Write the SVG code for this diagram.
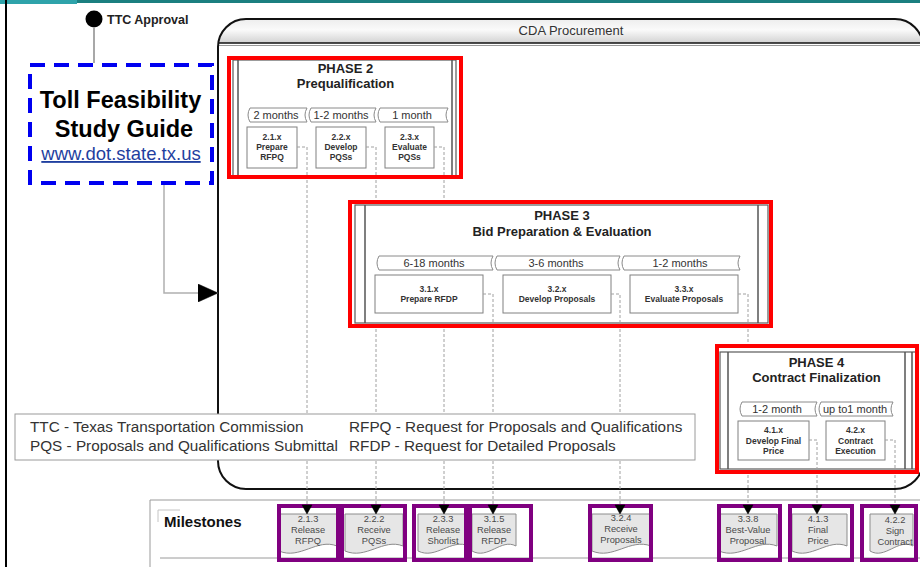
<svg xmlns="http://www.w3.org/2000/svg" width="920" height="567" viewBox="0 0 920 567">
<defs>
<style>
  text { font-family: "Liberation Sans", Arial, Helvetica, sans-serif; }
  .frame { fill: #fff; stroke: #5a5a5a; stroke-width: 1.2; }
  .bar { fill: none; stroke: #555; stroke-width: 1.5; }
  .hl { fill: none; stroke: #ff0000; stroke-width: 4; }
  .pl { fill: none; stroke: #800080; stroke-width: 4; }
  .task { fill: #fff; stroke: #808080; stroke-width: 1; }
  .tab { fill: #fff; stroke: #8a8a8a; stroke-width: 1; }
  .tt { font-size: 8.5px; font-weight: bold; fill: #333; text-anchor: middle; }
  .tabt { font-size: 11px; fill: #333; text-anchor: middle; }
  .ph { font-size: 13px; font-weight: bold; fill: #222; text-anchor: middle; }
  .doc { fill: #e6e6e6; stroke: #8c8c8c; stroke-width: 1; }
  .mt { font-size: 9.3px; fill: #4a4a4a; text-anchor: middle; }
  .dash { fill: none; stroke: #a0a0a0; stroke-width: 1; stroke-dasharray: 3 2; }
  .tip { fill: #000; stroke: #000; stroke-width: 0.5; }
  .leg { font-size: 15.3px; fill: #333; }
  .rule { fill: none; stroke: #9a9a9a; stroke-width: 1; }
</style>
<linearGradient id="hdr" x1="0" y1="0" x2="0" y2="1">
  <stop offset="0" stop-color="#ededed"/>
  <stop offset="0.45" stop-color="#fafafa"/>
  <stop offset="1" stop-color="#d2d2d2"/>
</linearGradient>
<clipPath id="cda-clip"><rect x="218" y="19" width="705" height="470" rx="28"/></clipPath>
<marker id="bigtri" markerUnits="userSpaceOnUse" markerWidth="20" markerHeight="18" viewBox="0 0 20 18" refX="20" refY="9" orient="auto">
  <path class="tip" d="M0,0 L20,9 L0,18 Z"/>
</marker>
</defs>

<!-- page frame -->
<rect x="0" y="0" width="920" height="567" fill="#fff"/>
<rect x="0" y="0" width="920" height="3" fill="#1b7f80"/>
<rect x="0" y="0" width="77" height="4" fill="#2ea3aa"/>
<rect x="5" y="0" width="2" height="567" fill="#000"/>

<!-- TTC approval event -->
<g id="ttc-approval">
  <circle cx="94" cy="19" r="8.5" fill="#000"/>
  <text x="107" y="23.5" font-size="12.5" font-weight="bold" fill="#222">TTC Approval</text>
</g>

<!-- guide reference box -->
<g id="guide-box">
  <rect x="30" y="65" width="182" height="118" fill="#fff" stroke="#0000f0" stroke-width="4" stroke-dasharray="15 9"/>
  <text x="120.5" y="108" font-size="23.5" font-weight="bold" fill="#000" text-anchor="middle">Toll Feasibility</text>
  <text x="124" y="137" font-size="23.5" font-weight="bold" fill="#000" text-anchor="middle">Study Guide</text>
  <text x="121" y="160" font-size="18.5" fill="#1f3f9f" text-anchor="middle" text-decoration="underline">www.dot.state.tx.us</text>
</g>

<!-- CDA procurement container -->
<g id="cda-procurement">
  <rect x="218" y="19" width="705" height="470" rx="28" fill="#fff"/>
  <rect x="218" y="19" width="705" height="24" fill="url(#hdr)" clip-path="url(#cda-clip)"/>
  <line x1="218" y1="43" x2="923" y2="43" stroke="#111" stroke-width="1.5"/>
  <line x1="218" y1="45.5" x2="923" y2="45.5" stroke="#999" stroke-width="1"/>
  <rect x="218" y="19" width="705" height="470" rx="28" fill="none" stroke="#111" stroke-width="2"/>
  <text x="571" y="35" font-size="13" fill="#333" text-anchor="middle">CDA Procurement</text>
</g>

<!-- Phase 2 -->
<g id="phase-2">
  <rect class="frame" x="233" y="60" width="223" height="116"/>
  <line class="bar" x1="238" y1="60" x2="238" y2="176"/>
  <line class="bar" x1="452" y1="60" x2="452" y2="176"/>
  <text class="ph" x="345.5" y="73">PHASE 2</text>
  <text class="ph" x="345.5" y="88">Prequalification</text>
  <path class="tab" d="M250,108 H307 Q303,115 307,122 H250 Q246,115 250,108 Z"/>
  <path class="tab" d="M311,108 H376 Q372,115 376,122 H311 Q307,115 311,108 Z"/>
  <path class="tab" d="M380,108 H448 Q444,115 448,122 H380 Q376,115 380,108 Z"/>
  <text class="tabt" x="276" y="118.5">2 months</text>
  <text class="tabt" x="341" y="118.5">1-2 months</text>
  <text class="tabt" x="412" y="118.5">1 month</text>
  <g id="task-2-1">
    <rect class="task" x="247" y="127" width="50" height="41"/>
    <text class="tt" x="272" y="140">2.1.x</text>
    <text class="tt" x="272" y="150">Prepare</text>
    <text class="tt" x="272" y="160">RFPQ</text>
  </g>
  <g id="task-2-2">
    <rect class="task" x="316" y="127" width="50" height="41"/>
    <text class="tt" x="341" y="140">2.2.x</text>
    <text class="tt" x="341" y="150">Develop</text>
    <text class="tt" x="341" y="160">PQSs</text>
  </g>
  <g id="task-2-3">
    <rect class="task" x="385" y="127" width="49" height="41"/>
    <text class="tt" x="409.5" y="140">2.3.x</text>
    <text class="tt" x="409.5" y="150">Evaluate</text>
    <text class="tt" x="409.5" y="160">PQSs</text>
  </g>
  <rect class="hl" x="229" y="58" width="232" height="119"/>
</g>

<!-- Phase 3 -->
<g id="phase-3">
  <rect class="frame" x="355" y="205" width="413" height="118"/>
  <line class="bar" x1="365" y1="205" x2="365" y2="323"/>
  <line class="bar" x1="758" y1="205" x2="758" y2="323"/>
  <text class="ph" x="562" y="220">PHASE 3</text>
  <text class="ph" x="562" y="236">Bid Preparation &amp; Evaluation</text>
  <path class="tab" d="M379,256 H493 Q489,263 493,270 H379 Q375,263 379,256 Z"/>
  <path class="tab" d="M497,256 H620 Q616,263 620,270 H497 Q493,263 497,256 Z"/>
  <path class="tab" d="M624,256 H740 Q736,263 740,270 H624 Q620,263 624,256 Z"/>
  <text class="tabt" x="434" y="267">6-18 months</text>
  <text class="tabt" x="556" y="267">3-6 months</text>
  <text class="tabt" x="680" y="267">1-2 months</text>
  <g id="task-3-1">
    <rect class="task" x="375" y="275" width="108" height="38"/>
    <text class="tt" x="429" y="292">3.1.x</text>
    <text class="tt" x="429" y="302">Prepare RFDP</text>
  </g>
  <g id="task-3-2">
    <rect class="task" x="503" y="275" width="108" height="38"/>
    <text class="tt" x="557" y="292">3.2.x</text>
    <text class="tt" x="557" y="302">Develop Proposals</text>
  </g>
  <g id="task-3-3">
    <rect class="task" x="630" y="275" width="108" height="38"/>
    <text class="tt" x="684" y="292">3.3.x</text>
    <text class="tt" x="684" y="302">Evaluate Proposals</text>
  </g>
  <rect class="hl" x="350" y="202" width="421" height="124"/>
</g>

<!-- Phase 4 -->
<g id="phase-4">
  <rect class="frame" x="720" y="352" width="197" height="117"/>
  <line class="bar" x1="728" y1="352" x2="728" y2="469"/>
  <line class="bar" x1="905" y1="352" x2="905" y2="469"/>
  <line class="bar" x1="912" y1="352" x2="912" y2="469"/>
  <text class="ph" x="816.5" y="367">PHASE 4</text>
  <text class="ph" x="816.5" y="382">Contract Finalization</text>
  <path class="tab" d="M742,402 H817 Q813,409 817,416 H742 Q738,409 742,402 Z"/>
  <path class="tab" d="M821,402 H893 Q889,409 893,416 H821 Q817,409 821,402 Z"/>
  <text class="tabt" x="777" y="413">1-2 month</text>
  <text class="tabt" x="855" y="413" font-size="10.5">up to1 month</text>
  <g id="task-4-1">
    <rect class="task" x="738" y="421" width="71" height="39"/>
    <text class="tt" x="773.5" y="433">4.1.x</text>
    <text class="tt" x="773.5" y="443.5">Develop Final</text>
    <text class="tt" x="773.5" y="454">Price</text>
  </g>
  <g id="task-4-2">
    <rect class="task" x="826" y="421" width="59" height="39"/>
    <text class="tt" x="855.5" y="433">4.2.x</text>
    <text class="tt" x="855.5" y="443.5">Contract</text>
    <text class="tt" x="855.5" y="454">Execution</text>
  </g>
  <rect class="hl" x="717" y="346" width="200" height="126"/>
</g>

<!-- abbreviations -->
<g id="legend">
  <rect x="15" y="414" width="680" height="46" fill="#fff" stroke="#9a9a9a" stroke-width="1"/>
  <text class="leg" x="30" y="432">TTC - Texas Transportation Commission</text>
  <text class="leg" x="30" y="451">PQS - Proposals and Qualifications Submittal</text>
  <text class="leg" x="349" y="432">RFPQ - Request for Proposals and Qualifications</text>
  <text class="leg" x="349" y="451">RFDP - Request for Detailed Proposals</text>
</g>

<!-- milestone lane -->
<g id="milestones">
  <path class="rule" d="M150,567 V500 H920"/>
  <path class="rule" d="M160,558 H920"/>
  <path d="M158,522 V510 H180" fill="none" stroke="#c4c4c4" stroke-width="1"/>
  <text x="164" y="527" font-size="15" font-weight="bold" fill="#111">Milestones</text>

  <g id="ms-2-1-3">
    <path class="doc" d="M279,514 H337 V546 C317,538 300,560 279,551 Z"/>
    <text class="mt" x="308" y="522">2.1.3</text><text class="mt" x="308" y="533">Release</text><text class="mt" x="308" y="544">RFPQ</text>
  </g>
  <g id="ms-2-2-2">
    <path class="doc" d="M345,514 H403 V546 C383,538 366,560 345,551 Z"/>
    <text class="mt" x="374" y="522">2.2.2</text><text class="mt" x="374" y="533">Receive</text><text class="mt" x="374" y="544">PQSs</text>
  </g>
  <g id="ms-2-3-3">
    <path class="doc" d="M418,514 H469 V546 C451,538 436,560 418,551 Z"/>
    <text class="mt" x="443" y="522">2.3.3</text><text class="mt" x="443" y="533">Release</text><text class="mt" x="443" y="544">Shorlist</text>
  </g>
  <g id="ms-3-1-5">
    <path class="doc" d="M472,514 H516 V546 C501,538 488,560 472,551 Z"/>
    <text class="mt" x="494" y="522">3.1.5</text><text class="mt" x="494" y="533">Release</text><text class="mt" x="494" y="544">RFDP</text>
  </g>
  <g id="ms-3-2-4">
    <path class="doc" d="M592,514 H651 V546 C630,538 613,560 592,551 Z"/>
    <text class="mt" x="621" y="521">3.2.4</text><text class="mt" x="621" y="532">Receive</text><text class="mt" x="621" y="543">Proposals</text>
  </g>
  <g id="ms-3-3-8">
    <path class="doc" d="M719,514 H777 V546 C757,538 740,560 719,551 Z"/>
    <text class="mt" x="748" y="522">3.3.8</text><text class="mt" x="748" y="533">Best-Value</text><text class="mt" x="748" y="544">Proposal</text>
  </g>
  <g id="ms-4-1-3">
    <path class="doc" d="M792,514 H847 V546 C828,538 811,560 792,551 Z"/>
    <text class="mt" x="818" y="522">4.1.3</text><text class="mt" x="818" y="533">Final</text><text class="mt" x="818" y="544">Price</text>
  </g>
  <g id="ms-4-2-2">
    <path class="doc" d="M870,514 H913 V546 C898,538 885,560 870,551 Z"/>
    <text class="mt" x="895" y="523">4.2.2</text><text class="mt" x="895" y="534">Sign</text><text class="mt" x="895" y="545">Contract</text>
  </g>

  <rect class="pl" x="279" y="506" width="59" height="54"/>
  <rect class="pl" x="342" y="506" width="63" height="54"/>
  <rect class="pl" x="414" y="506" width="52" height="54"/>
  <rect class="pl" x="470" y="506" width="61" height="54"/>
  <rect class="pl" x="590" y="506" width="61" height="54"/>
  <rect class="pl" x="719" y="506" width="61" height="54"/>
  <rect class="pl" x="790" y="506" width="62" height="54"/>
  <rect class="pl" x="862" y="506" width="54" height="54"/>
</g>

<!-- connectors -->
<g id="connectors">
  <path d="M94,27 V63" fill="none" stroke="#a8a8a8" stroke-width="2"/>
  <path d="M164,185 V293 H218" fill="none" stroke="#b0b0b0" stroke-width="1.5" marker-end="url(#bigtri)"/>

  <path class="dash" d="M297,147 H307 V175 M307,180 V413 M307,461 V506"/>
  <path class="dash" d="M366,147 H376 V175 M376,180 V199 M376,329 V413 M376,461 V506"/>
  <path class="dash" d="M434,147 H444 V175 M444,180 V199 M444,329 V413 M444,461 V506"/>
  <path class="dash" d="M483,294 H493 V323 M493,329 V413 M493,461 V506"/>
  <path class="dash" d="M611,294 H620 V323 M620,329 V413 M620,461 V506"/>
  <path class="dash" d="M738,294 H748 V323 M748,329 V343 M748,475 V506"/>
  <path class="dash" d="M809,440 H817 V469 M817,475 V506"/>
  <path class="dash" d="M885,440 H895 V469 M895,475 V506"/>

  <!-- arrowheads where the connectors meet the milestones -->
  <path class="tip" d="M302,505 H312 L307,514 Z"/>
  <path class="tip" d="M371,505 H381 L376,514 Z"/>
  <path class="tip" d="M439,505 H449 L444,514 Z"/>
  <path class="tip" d="M488,505 H498 L493,514 Z"/>
  <path class="tip" d="M615,505 H625 L620,514 Z"/>
  <path class="tip" d="M743,505 H753 L748,514 Z"/>
  <path class="tip" d="M812,505 H822 L817,514 Z"/>
  <path class="tip" d="M890,505 H900 L895,514 Z"/>
</g>
</svg>
